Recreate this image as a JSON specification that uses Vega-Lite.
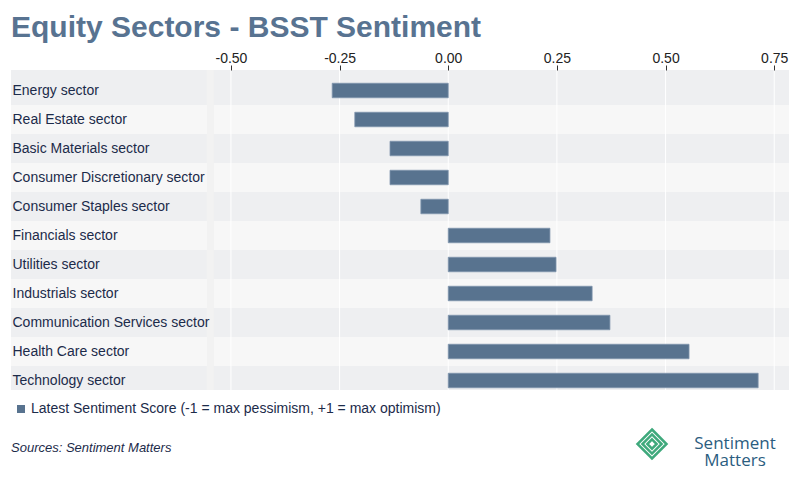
{
  "$schema": "https://vega.github.io/schema/vega-lite/v6.json",
  "width": 778,
  "height": 320,
  "autosize": {"type": "none"},
  "padding": {"left": 11, "top": 70, "right": 11, "bottom": 88},
  "background": "#ffffff",
  "title": {
    "text": "Equity Sectors - BSST Sentiment",
    "anchor": "start",
    "frame": "group",
    "font": "Liberation Sans",
    "fontSize": 30,
    "fontWeight": "bold",
    "color": "#587391",
    "offset": 8
  },
  "config": {
    "view": {"stroke": null},
    "font": "Liberation Sans",
    "style": {"guide-label": {"lineHeight": 17}},
    "axisY": {
      "title": null, "ticks": false, "tickSize": 0, "domain": false, "grid": false,
      "labelAlign": "left", "labelBaseline": "middle", "labelPadding": -1,
      "labelFontSize": 14, "labelColor": "#1c2b4a", "labelFont": "Liberation Sans",
      "labelLimit": 0
    },
    "axisX": {
      "title": null, "grid": false, "domain": false, "ticks": true, "tickSize": 5, "tickColor": "#333333", "tickWidth": 1,
      "labelFontSize": 14, "labelColor": "#222222", "labelFont": "Liberation Sans", "labelPadding": 0
    }
  },
  "datasets": {
    "sectors": [
      {"sector": "Energy sector", "score": -0.267},
      {"sector": "Real Estate sector", "score": -0.215},
      {"sector": "Basic Materials sector", "score": -0.134},
      {"sector": "Consumer Discretionary sector", "score": -0.134},
      {"sector": "Consumer Staples sector", "score": -0.063},
      {"sector": "Financials sector", "score": 0.234},
      {"sector": "Utilities sector", "score": 0.248},
      {"sector": "Industrials sector", "score": 0.331},
      {"sector": "Communication Services sector", "score": 0.372},
      {"sector": "Health Care sector", "score": 0.554},
      {"sector": "Technology sector", "score": 0.713}
    ],
    "ticks": [
      {"tick": -0.5}, {"tick": -0.25}, {"tick": 0}, {"tick": 0.25}, {"tick": 0.5}, {"tick": 0.75}
    ]
  },
  "layer": [
    {
      "data": {"values": [{}]},
      "mark": {"type": "rect", "fill": "#eeeff1"},
      "encoding": {}
    },
    {
      "data": {"name": "sectors"},
      "transform": [
        {"window": [{"op": "row_number", "as": "rn"}]},
        {"filter": "datum.rn % 2 == 0"}
      ],
      "mark": {"type": "rect", "fill": "#f7f7f7"},
      "encoding": {
        "y": {
          "field": "sector", "type": "nominal", "sort": null,
          "scale": {
            "domain": ["Energy sector", "Real Estate sector", "Basic Materials sector", "Consumer Discretionary sector", "Consumer Staples sector", "Financials sector", "Utilities sector", "Industrials sector", "Communication Services sector", "Health Care sector", "Technology sector"],
            "range": [6, 325], "paddingInner": 0, "paddingOuter": 0
          },
          "axis": {"orient": "left", "zindex": 1}
        }
      }
    },
    {
      "data": {"values": [{}]},
      "mark": {"type": "rect", "fill": "#f2f2f2"},
      "encoding": {
        "x": {"datum": -0.5552, "type": "quantitative", "scale": {"domain": [-1.006, 0.784], "nice": false, "zero": false},
              "axis": {"orient": "top", "values": [-0.5, -0.25, 0, 0.25, 0.5, 0.75], "format": ".2f", "labelExpr": "replace(datum.label, '\u2212', '-')", "zindex": 1}},
        "x2": {"datum": -0.5391}
      }
    },
    {
      "data": {"name": "ticks"},
      "mark": {"type": "rule", "stroke": "#ffffff", "strokeWidth": 1},
      "encoding": {
        "x": {"field": "tick", "type": "quantitative", "scale": {"domain": [-1.006, 0.784], "nice": false, "zero": false},
              "axis": {"orient": "top", "values": [-0.5, -0.25, 0, 0.25, 0.5, 0.75], "format": ".2f", "labelExpr": "replace(datum.label, '\u2212', '-')", "zindex": 1}}
      }
    },
    {
      "data": {"name": "sectors"},
      "mark": {"type": "bar", "height": {"band": 0.5}, "stroke": "#8096ad", "strokeWidth": 0.8},
      "encoding": {
        "y": {
          "field": "sector", "type": "nominal", "sort": null,
          "scale": {
            "domain": ["Energy sector", "Real Estate sector", "Basic Materials sector", "Consumer Discretionary sector", "Consumer Staples sector", "Financials sector", "Utilities sector", "Industrials sector", "Communication Services sector", "Health Care sector", "Technology sector"],
            "range": [6, 325], "paddingInner": 0, "paddingOuter": 0
          },
          "axis": {"orient": "left", "zindex": 1}
        },
        "x": {
          "field": "score", "type": "quantitative",
          "scale": {"domain": [-1.006, 0.784], "nice": false, "zero": false},
          "axis": {"orient": "top", "values": [-0.5, -0.25, 0, 0.25, 0.5, 0.75], "format": ".2f", "labelExpr": "replace(datum.label, '\u2212', '-')", "zindex": 1}
        },
        "color": {
          "datum": "Latest Sentiment Score (-1 = max pessimism, +1 = max optimism)",
          "type": "nominal",
          "scale": {"range": ["#58738f"]},
          "legend": {
            "orient": "none", "legendX": 0, "legendY": 332, "padding": 0,
            "symbolType": "square", "symbolSize": 64, "symbolOffset": 3, "symbolStrokeWidth": 0,
            "labelFontSize": 14, "labelColor": "#1c2b4a", "labelFont": "Liberation Sans", "labelOffset": 3, "labelLimit": 0,
            "title": "Sources: Sentiment Matters", "titleOrient": "bottom", "titleAnchor": "start",
            "titleFont": "Liberation Sans", "titleFontSize": 13, "titleFontStyle": "italic", "titleFontWeight": "normal",
            "titleColor": "#1c2b4a", "titlePadding": 26, "titleLimit": 0
          }
        }
      }
    },
    {
      "data": {"values": [{}]},
      "transform": [{"filter": "false"}],
      "mark": {"type": "point", "color": "#3fa97c", "strokeWidth": 2.5, "filled": false},
      "encoding": {
        "shape": {
          "datum": "Sentiment Matters",
          "type": "nominal",
          "scale": {"range": ["M0,-1L1,0L0,1L-1,0Z M0,-0.66L0.66,0L0,0.66L-0.66,0Z M0,-0.32L0.32,0L0,0.32L-0.32,0Z"]},
          "legend": {
            "orient": "none", "legendX": 625, "legendY": 358, "padding": 0, "title": null,
            "symbolSize": 841, "symbolStrokeColor": "#3fa97c", "symbolFillColor": "transparent", "symbolStrokeWidth": 2.5, "symbolOpacity": 1,
            "labelExpr": "['Sentiment', 'Matters']",
            "labelFont": "Open Sans", "labelFontSize": 17, "labelColor": "#2b5d7f", "labelAlign": "center",
            "labelOffset": 67, "labelLimit": 0, "labelBaseline": "middle"
          }
        }
      }
    }
  ]
}
